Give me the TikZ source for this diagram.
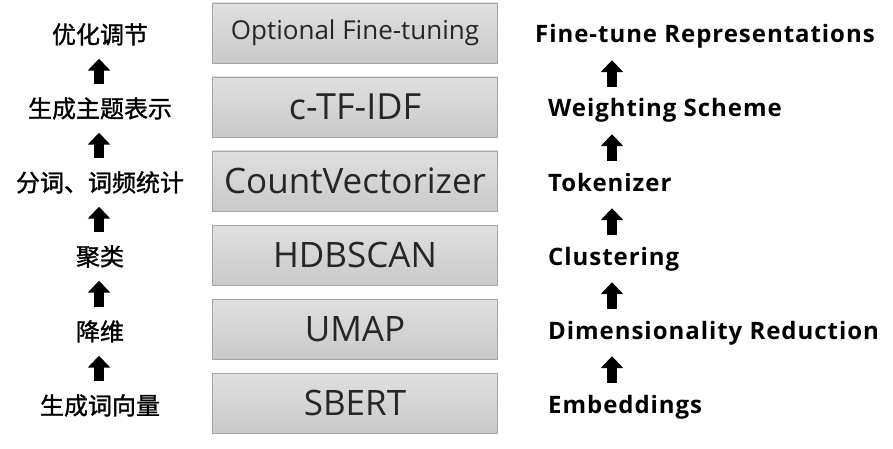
\documentclass[tikz,border=0pt]{standalone}
\usepackage{fontspec}
\usepackage{tikz}
\usetikzlibrary{arrows.meta}
\setmainfont{Open Sans}
\newfontfamily\enfont[LetterSpace=4]{Open Sans}
\newfontfamily\cjk[FakeBold=1.2]{Noto Sans CJK SC}

\tikzset{
  stage/.style={draw=gray!70, top color=gray!25, bottom color=gray!42,
    minimum width=285pt, minimum height=60pt, inner sep=0pt, text=black!85},
  cnlabel/.style={font=\cjk\fontsize{24}{27}\selectfont, inner sep=0pt,
    text height=20pt, text depth=3pt},
  enlabel/.style={font=\enfont\bfseries\fontsize{24}{28}\selectfont, inner sep=0pt,
    text height=17pt, text depth=5pt, anchor=base west},
  uparrow/.style={line width=10pt, -{Triangle[width=22pt,length=12pt]},
    shorten <=13pt, shorten >=12pt}
}

\begin{document}
\begin{tikzpicture}[x=1pt, y=-1pt]
  \useasboundingbox (0,0) rectangle (893,449);
  % Pipeline boxes
  \node[stage, font=\fontsize{26}{30}\selectfont] (fine)   at (355,33)  {Optional Fine-tuning};
  \node[stage, font=\fontsize{36}{40}\selectfont] (ctfidf) at (355,107) {c-TF-IDF};
  \node[stage, font=\fontsize{35}{40}\selectfont] (count)  at (355,181) {CountVectorizer};
  \node[stage, font=\fontsize{35}{40}\selectfont] (hdb)    at (355,255) {HDBSCAN};
  \node[stage, font=\fontsize{35}{40}\selectfont] (umap)   at (355,329) {UMAP};
  \node[stage, font=\fontsize{35}{40}\selectfont] (sbert)  at (355,403) {SBERT};
  % Chinese steps on the left
  \coordinate (lx) at (99,0);
  \node[cnlabel] (zh1) at (100,35)  {优化调节};
  \node[cnlabel] (zh2) at (100,109) {生成主题表示};
  \node[cnlabel] (zh3) at (100,183) {分词、词频统计};
  \node[cnlabel] (zh4) at (100,257) {聚类};
  \node[cnlabel] (zh5) at (100,332) {降维};
  \node[cnlabel] (zh6) at (100,406) {生成词向量};
  \draw[uparrow] (zh2.north -| lx) -- (zh1.south -| lx);
  \draw[uparrow] (zh3.north -| lx) -- (zh2.south -| lx);
  \draw[uparrow] (zh4.north -| lx) -- (zh3.south -| lx);
  \draw[uparrow] (zh5.north -| lx) -- (zh4.south -| lx);
  \draw[uparrow] (zh6.north -| lx) -- (zh5.south -| lx);
  % English steps on the right
  \coordinate (rx) at (612,0);
  \node[enlabel] (en1) at (535,43)  {Fine-tune Representations};
  \node[enlabel] (en2) at (548,117) {Weighting Scheme};
  \node[enlabel] (en3) at (548,191) {Tokenizer};
  \node[enlabel] (en4) at (548,265) {Clustering};
  \node[enlabel] (en5) at (548,339) {Dimensionality Reduction};
  \node[enlabel] (en6) at (548,413) {Embeddings};
  \draw[uparrow] (en2.north -| rx) -- (en1.south -| rx);
  \draw[uparrow] (en3.north -| rx) -- (en2.south -| rx);
  \draw[uparrow] (en4.north -| rx) -- (en3.south -| rx);
  \draw[uparrow] (en5.north -| rx) -- (en4.south -| rx);
  \draw[uparrow] (en6.north -| rx) -- (en5.south -| rx);
\end{tikzpicture}
\end{document}
